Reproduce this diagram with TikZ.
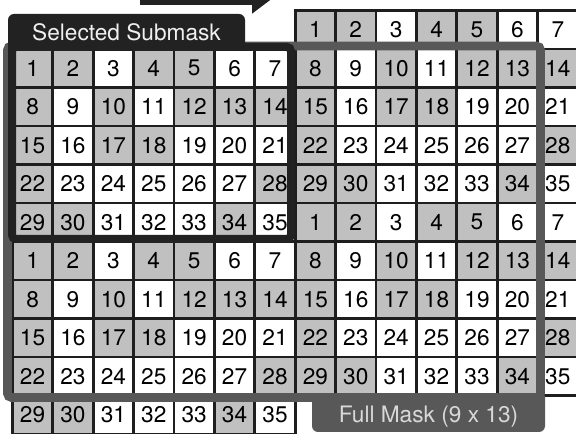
\documentclass[tikz,border=0pt]{standalone}
\usepackage{fontspec}
\setmainfont{TeX Gyre Heros}
\usetikzlibrary{arrows.meta}
\definecolor{cellgray}{RGB}{192,192,192}
\definecolor{gridline}{RGB}{30,30,30}
\definecolor{subdark}{RGB}{34,34,34}
\definecolor{maskdark}{RGB}{88,88,88}
\definecolor{subtext}{RGB}{240,240,240}
\definecolor{masktext}{RGB}{216,216,216}

\begin{document}
\begin{tikzpicture}[
    x=0.75pt, y=-0.75pt,
    cell/.style={
        rectangle, draw=gridline, line width=2.2pt, inner sep=0pt, outer sep=0pt,
        minimum width=30.3pt, minimum height=28.875pt, anchor=north west,
        font=\fontsize{17}{20}\selectfont
    },
    subframe/.style={draw=subdark, line width=6pt, rounded corners=3pt},
    maskframe/.style={draw=maskdark, line width=6.5pt, rounded corners=3pt},
    tablabel/.style={font=\fontsize{17}{20}\selectfont, text=#1, inner sep=0pt},
    movearrow/.style={-{Triangle[length=15.75pt, width=22.5pt]}, line width=10.5pt, draw=subdark}
]
\useasboundingbox (0,0) rectangle (576,434);
\clip (0,0) rectangle (576,434);

% === Cells: four copies of the 7 x 5 tile ===
\foreach \tname/\tc/\tr in {tl/0/0, bl/0/5, tr/7/-1, br/7/4}{
    \foreach \g [count=\n from 0] in {1,1,0,1,1,0,0, 1,0,1,0,1,1,1, 1,0,1,1,0,0,0, 1,0,0,0,0,0,1, 1,1,0,0,0,1,0}{
        \pgfmathtruncatemacro{\cx}{\tc+mod(\n,7)}
        \pgfmathtruncatemacro{\cy}{\tr+floor(\n/7)}
        \pgfmathtruncatemacro{\num}{\n+1}
        \ifnum\g=1 \def\cellfill{cellgray}\else\def\cellfill{white}\fi
        \node[cell, fill=\cellfill] (\tname\num) at ({12.4+40.4*\cx}, {49+38.5*\cy}) {\num};
    }
}

% === Full mask ===
\draw[maskframe] (7.5,46) rectangle (540.5,397.5);
\fill[maskdark] (312,396) -- (312,426) arc[start angle=180, end angle=90, radius=6]
    -- (539,432) arc[start angle=90, end angle=0, radius=6] -- (545,396) -- cycle;
\node[tablabel=masktext] (fulllabel) at (428.5,416.5) {Full Mask (9 x 13)};

% === Selected submask ===
\draw[subframe] (12,47) rectangle (291,239);
\fill[subdark] (8,50) -- (8,20) arc[start angle=180, end angle=270, radius=6]
    -- (239,14) arc[start angle=270, end angle=360, radius=6] -- (245,50) -- cycle;
\node[tablabel=subtext] (sublabel) at (126.5,32) {Selected Submask};

% shift arrow
\coordinate (arrowtail) at (140,-2);
\coordinate (arrowhead) at (273,-2);
\draw[movearrow] (arrowtail) -- (arrowhead);

\end{tikzpicture}
\end{document}
